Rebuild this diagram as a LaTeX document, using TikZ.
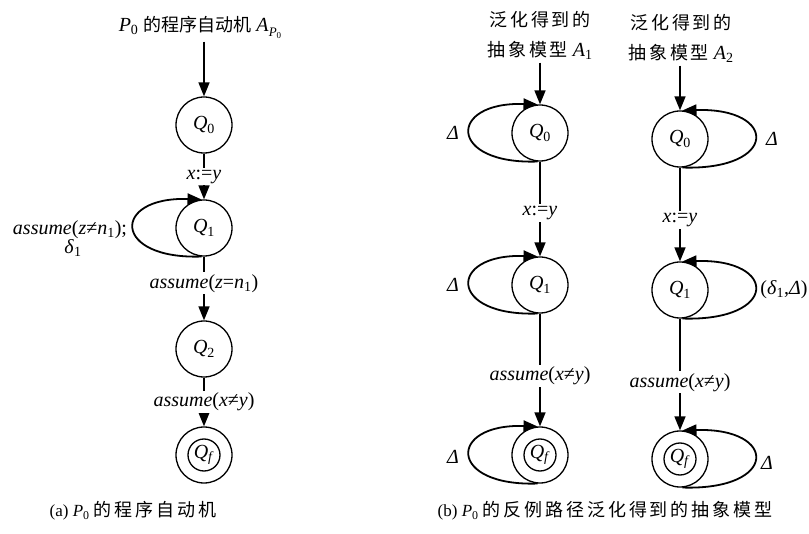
\documentclass[tikz,border=0pt]{standalone}
\usepackage{fontspec}
\setmainfont{Liberation Serif}
\newfontfamily\cjkfont{Noto Sans CJK SC}
\newfontfamily\cjkwide[LetterSpace=16]{Noto Sans CJK SC}
\usetikzlibrary{arrows.meta}
\newcommand\Qn[1]{\textit{Q}\textsubscript{#1}}
\newcommand\cjA[1]{{\cjkfont\fontsize{18}{22}\selectfont #1}}
\newcommand\cjB[1]{{\cjkwide\fontsize{18}{22}\selectfont #1}}
\begin{document}
\begin{tikzpicture}[x=1pt,y=-1pt,font=\fontsize{20}{24}\selectfont,
  st/.style={circle,draw,line width=1.3pt,minimum size=56pt,inner sep=0pt},
  ar/.style={line width=1.6pt,-{Triangle[length=14pt,width=11pt]}},
  lp/.style={line width=1.8pt,-{Triangle[length=14pt,width=11pt]}},
  lab/.style={fill=white,inner sep=2pt},
  inner/.style={line width=1.3pt}]
\useasboundingbox (0,0) rectangle (809,534);

% ---------- (a) ----------
\node (t0) at (200,27) {\textit{P}\textsubscript{0} \cjA{的程序自动机} \textit{A}\raisebox{-5pt}{\fontsize{13}{13}\selectfont\textit{P}\raisebox{-2pt}{\fontsize{9}{9}\selectfont 0}}};
\node[st] (a0) at (204,125) {\Qn{0}};
\node[st] (a1) at (204,228) {\Qn{1}};
\node[st] (a2) at (204,349) {\Qn{2}};
\node[st] (af) at (204,455) {\Qn{\textit{f}}};
\draw[inner] (af.center) circle[radius=16];
\draw[ar] (t0.south -| a0) -- (a0);
\draw[ar] (a0) -- node[lab]{\textit{x}:=\textit{y}} (a1);
\draw[ar] (a1) -- node[lab,pos=0.42]{\textit{assume}(\textit{z}=\textit{n}\textsubscript{1})} (a2);
\draw[ar] (a2) -- node[lab]{\textit{assume}(\textit{x}≠\textit{y})} (af);
\draw[lp] (a1.265) .. controls +(-90,3) and +(-90,-3) .. (a1.95);
\node (l1) at (70,230) {\textit{assume}(\textit{z}≠\textit{n}\textsubscript{1});};
\node (l2) at (73,248) {\textit{δ}\textsubscript{1}};
\node (ca) at (133,511) {\fontsize{17}{20}\selectfont (a) \textit{P}\textsubscript{0} \cjB{的程序自动机}};

% ---------- (b) A1 ----------
\node[align=center] (t1) at (540,35) {\cjB{泛化得到的}\\[6pt]\cjB{抽象模型} \textit{A}\textsubscript{1}};
\node[st] (b0) at (540,133) {\Qn{0}};
\node[st] (b1) at (540,285) {\Qn{1}};
\node[st] (bf) at (540,455) {\Qn{\textit{f}}};
\draw[inner] (bf.center) circle[radius=16];
\draw[ar] (t1.south -| b0) -- (b0);
\draw[ar] (b0) -- node[lab,pos=0.54]{\textit{x}:=\textit{y}} (b1);
\draw[ar] (b1) -- node[lab,pos=0.55]{\textit{assume}(\textit{x}≠\textit{y})} (bf);
\draw[lp] (b0.265) .. controls +(-90,3) and +(-90,-3) .. (b0.95);
\draw[lp] (b1.265) .. controls +(-90,3) and +(-90,-3) .. (b1.95);
\draw[lp] (bf.265) .. controls +(-90,3) and +(-90,-3) .. (bf.95);
\node (d0) at (453,133) {\textit{Δ}};
\node (d1) at (453,285) {\textit{Δ}};
\node (d2) at (453,457) {\textit{Δ}};

% ---------- (b) A2 ----------
\node[align=center] (t2) at (681,38) {\cjB{泛化得到的}\\[6pt]\cjB{抽象模型} \textit{A}\textsubscript{2}};
\node[st] (c0) at (680,139) {\Qn{0}};
\node[st] (c1) at (680,290) {\Qn{1}};
\node[st] (cf) at (680,459) {\Qn{\textit{f}}};
\draw[inner] (cf.center) circle[radius=16];
\draw[ar] (t2.south -| c0) -- (c0);
\draw[ar] (c0) -- node[lab,pos=0.56]{\textit{x}:=\textit{y}} (c1);
\draw[ar] (c1) -- node[lab,pos=0.57]{\textit{assume}(\textit{x}≠\textit{y})} (cf);
\draw[lp] (c0.275) .. controls +(96,3) and +(96,-3) .. (c0.85);
\draw[lp] (c1.275) .. controls +(96,3) and +(96,-3) .. (c1.85);
\draw[lp] (cf.275) .. controls +(96,3) and +(96,-3) .. (cf.85);
\node (e0) at (772,139) {\textit{Δ}};
\node (e1) at (784,290) {(\textit{δ}\textsubscript{1},\textit{Δ})};
\node (e2) at (767,463) {\textit{Δ}};
\node (cb) at (605,511) {\fontsize{17}{20}\selectfont (b) \textit{P}\textsubscript{0} \cjB{的反例路径泛化得到的抽象模型}};
\end{tikzpicture}
\end{document}
